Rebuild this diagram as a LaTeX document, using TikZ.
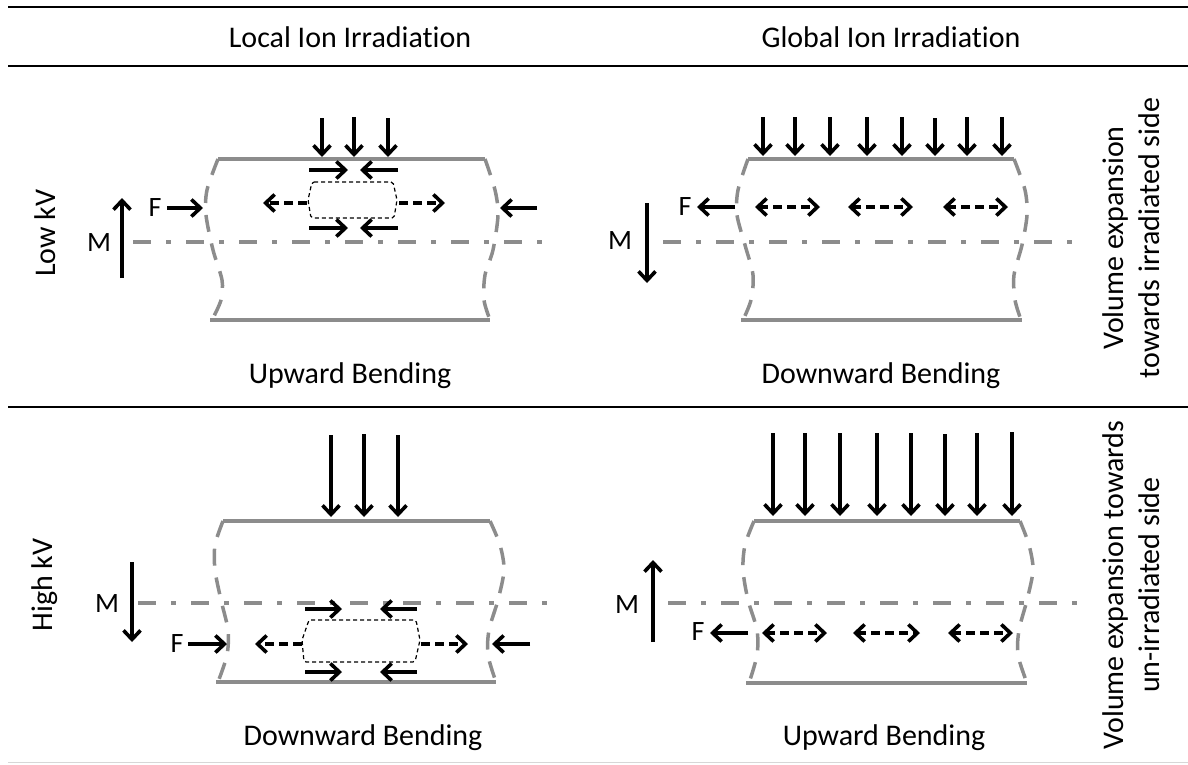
\documentclass[tikz,border=0pt]{standalone}
\usepackage{fontspec}
\setmainfont{Carlito}[Ligatures=NoCommon]
\usepackage{tikz}
\usetikzlibrary{arrows.meta, positioning}
\definecolor{wallgray}{RGB}{140,140,140}
\definecolor{rulegray}{RGB}{215,215,215}

\begin{document}
\begin{tikzpicture}[
        x=1pt, y=-1pt,
        txt/.style={font=\fontsize{30}{36}\selectfont, inner sep=0pt},
        sym/.style={font=\fontsize{28}{32}\selectfont, inner sep=0pt},
        rule/.style={line width=2pt},
        wall/.style={draw=wallgray, line width=4pt},
        side/.style={draw=wallgray, line width=3.5pt, dash pattern=on 17pt off 12pt},
        axisline/.style={draw=wallgray, line width=4.5pt, dash pattern=on 18pt off 15pt on 5pt off 15pt},
        ion/.style={-{Straight Barb[length=9pt,width=17pt]}, line width=3.6pt},
        strain/.style={ion, dash pattern=on 9pt off 5pt},
        spread/.style={{Straight Barb[length=9pt,width=17pt]}-{Straight Barb[length=9pt,width=17pt]}, line width=3.6pt, dash pattern=on 9pt off 5pt},
        zone/.style={draw, line width=1.2pt, dash pattern=on 4pt off 3pt, rounded corners=2pt}
    ]
        \useasboundingbox (0,0) rectangle (1188,764);

        % Table rules
        \draw[rule] (8,7) -- (1188,7);
        \draw[rule] (8,66) -- (1188,66);
        \draw[rule] (8,407) -- (1188,407);
        \draw[draw=rulegray, line width=1pt] (8,762) -- (1188,762);

        % Headers
        \node[txt, anchor=base] (hlocal) at (350,47) {Local Ion Irradiation};
        \node[txt, anchor=base] (hglobal) at (891,47) {Global Ion Irradiation};
        \node[txt, rotate=90] (lowkv) at (45,233) {Low kV};
        \node[txt, rotate=90] (highkv) at (45,585) {High kV};
        \node[txt, rotate=90, align=center] (lowvol) at (1131,238) {Volume expansion\\towards irradiated side};
        \node[txt, rotate=90, align=center] (highvol) at (1131,585) {Volume expansion towards\\un-irradiated side};

        % Local, low kV
        \draw[wall] (218,159) -- (485,159);
        \draw[wall] (210,320) -- (490,320);
        \draw[side] plot[smooth] coordinates {(218,159) (207,190) (206,215) (213,250) (222,280) (221,300) (212,320)};
        \draw[side] plot[smooth] coordinates {(485,159) (495,190) (498,215) (493,250) (485,275) (484,300) (490,320)};
        \draw[axisline] (133,242) -- (550,242);
        \draw[ion] (322,118) -- (322,157);
        \draw[ion] (354,117) -- (354,157);
        \draw[ion] (388,118) -- (388,157);
        \draw[ion] (309,170) -- (348,170);
        \draw[ion] (398,170) -- (360,170);
        \draw[ion] (309,228) -- (348,228);
        \draw[ion] (398,228) -- (360,228);
        \draw[zone] (312,182) -- (393,182) -- (397,200) -- (394,218) -- (311,218) -- (308,200) -- cycle;
        \draw[strain] (307,203) -- (263,203);
        \draw[strain] (399,203) -- (445,203);
        \node[sym] (f1) at (155,208) {F};
        \draw[ion] (167,208) -- (203,208);
        \draw[ion] (537,208) -- (500,208);
        \node[sym] (m1) at (99,243) {M};
        \draw[ion] (122,278) -- (122,198);
        \node[txt, anchor=base] (bend1) at (350,383) {Upward Bending};

        % Global, low kV
        \draw[wall] (748,159) -- (1014,159);
        \draw[wall] (741,320) -- (1022,320);
        \draw[side] plot[smooth] coordinates {(748,159) (738,190) (737,215) (745,245) (753,275) (751,300) (743,320)};
        \draw[side] plot[smooth] coordinates {(1014,159) (1025,190) (1027,215) (1022,245) (1014,275) (1015,300) (1021,320)};
        \draw[axisline] (663,242) -- (1080,242);
        \draw[ion] (763,117) -- (763,156);
        \draw[ion] (795,117) -- (795,156);
        \draw[ion] (830,117) -- (830,156);
        \draw[ion] (867,117) -- (867,156);
        \draw[ion] (902,117) -- (902,156);
        \draw[ion] (935,118) -- (935,156);
        \draw[ion] (967,117) -- (967,156);
        \draw[ion] (1002,117) -- (1002,156);
        \draw[spread] (755,207) -- (820,207);
        \draw[spread] (848,207) -- (913,207);
        \draw[spread] (943,207) -- (1008,207);
        \node[sym] (f2) at (685,207) {F};
        \draw[ion] (735,207) -- (697,207);
        \node[sym] (m2) at (620,241) {M};
        \draw[ion] (647,203) -- (647,283);
        \node[txt, anchor=base] (bend2) at (881,383) {Downward Bending};

        % Local, high kV
        \draw[wall] (223,521) -- (490,521);
        \draw[wall] (216,682) -- (496,682);
        \draw[side] plot[smooth] coordinates {(223,521) (215,545) (215,570) (221,600) (228,630) (227,655) (218,682)};
        \draw[side] plot[smooth] coordinates {(490,521) (500,545) (504,570) (498,600) (489,630) (488,655) (496,682)};
        \draw[axisline] (138,603) -- (555,603);
        \draw[ion] (331,435) -- (331,517);
        \draw[ion] (364,434) -- (364,517);
        \draw[ion] (398,435) -- (398,517);
        \draw[ion] (305,609) -- (342,609);
        \draw[ion] (417,609) -- (380,609);
        \draw[ion] (305,672) -- (342,672);
        \draw[ion] (417,672) -- (380,672);
        \draw[zone] (309,620) -- (416,620) -- (420,640) -- (415,662) -- (304,662) -- (302,640) -- cycle;
        \draw[strain] (302,644) -- (255,644);
        \draw[strain] (421,644) -- (468,644);
        \node[sym] (f3) at (177,644) {F};
        \draw[ion] (188,644) -- (227,644);
        \draw[ion] (530,644) -- (492,644);
        \node[sym] (m3) at (107,604) {M};
        \draw[ion] (132,562) -- (132,642);
        \node[txt, anchor=base] (bend3) at (363,745) {Downward Bending};

        % Global, high kV
        \draw[wall] (754,521) -- (1020,521);
        \draw[wall] (746,683) -- (1027,683);
        \draw[side] plot[smooth] coordinates {(754,521) (745,545) (743,570) (748,600) (757,630) (757,655) (749,683)};
        \draw[side] plot[smooth] coordinates {(1020,521) (1029,545) (1033,570) (1027,600) (1019,630) (1018,655) (1027,683)};
        \draw[axisline] (668,603) -- (1087,603);
        \draw[ion] (773,433) -- (773,516);
        \draw[ion] (805,433) -- (805,516);
        \draw[ion] (840,433) -- (840,516);
        \draw[ion] (877,433) -- (877,516);
        \draw[ion] (911,433) -- (911,516);
        \draw[ion] (945,434) -- (945,516);
        \draw[ion] (977,433) -- (977,516);
        \draw[ion] (1012,432) -- (1012,516);
        \draw[spread] (762,633) -- (827,633);
        \draw[spread] (853,633) -- (920,633);
        \draw[spread] (948,633) -- (1013,633);
        \node[sym] (f4) at (698,632) {F};
        \draw[ion] (748,633) -- (710,633);
        \node[sym] (m4) at (627,605) {M};
        \draw[ion] (653,642) -- (653,560);
        \node[txt, anchor=base] (bend4) at (884,745) {Upward Bending};
    \end{tikzpicture}
\end{document}
